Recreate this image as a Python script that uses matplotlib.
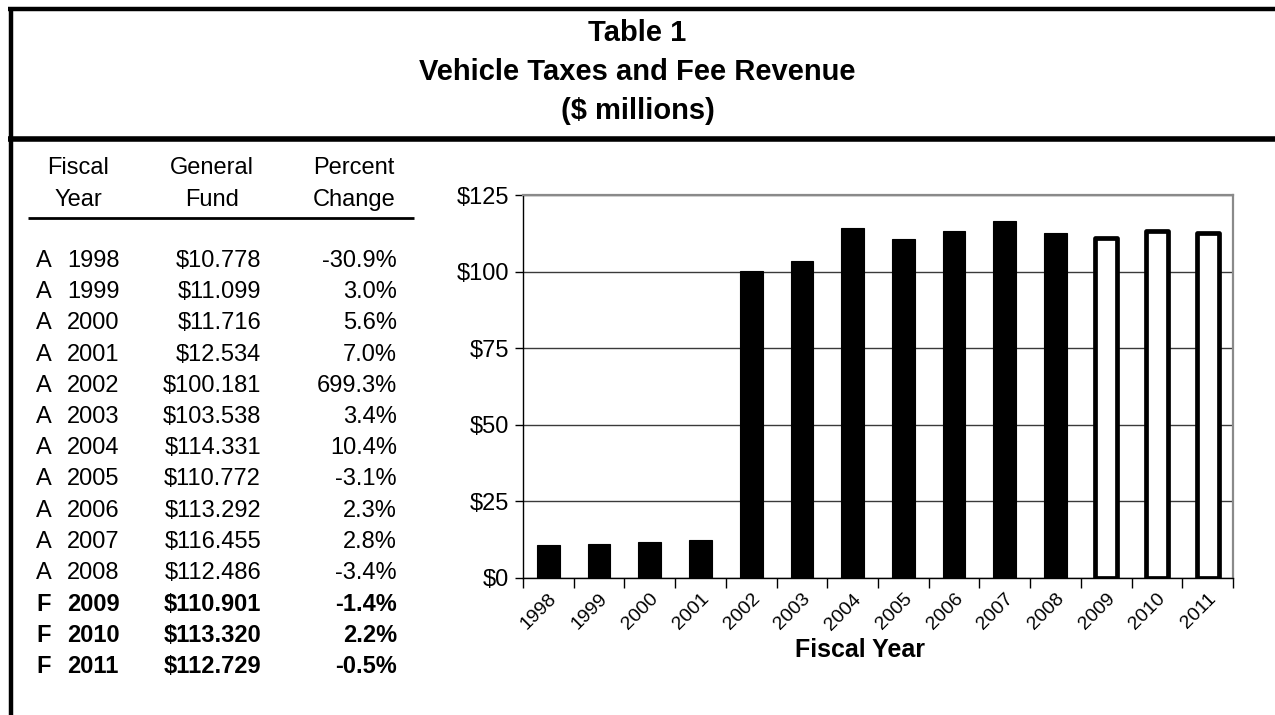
import matplotlib
matplotlib.use("Agg")
import matplotlib.pyplot as plt
from matplotlib.lines import Line2D
from matplotlib.ticker import FixedLocator, FuncFormatter

# ---- data ----
years = [1998, 1999, 2000, 2001, 2002, 2003, 2004, 2005, 2006, 2007, 2008, 2009, 2010, 2011]
status = ["A", "A", "A", "A", "A", "A", "A", "A", "A", "A", "A", "F", "F", "F"]
general_fund = [10.778, 11.099, 11.716, 12.534, 100.181, 103.538, 114.331, 110.772,
                113.292, 116.455, 112.486, 110.901, 113.320, 112.729]
pct_change = [-30.9, 3.0, 5.6, 7.0, 699.3, 3.4, 10.4, -3.1, 2.3, 2.8, -3.4, -1.4, 2.2, -0.5]
title_lines = ["Table 1", "Vehicle Taxes and Fee Revenue", "($ millions)"]
y_ticks = [0, 25, 50, 75, 100, 125]

plt.rcParams["font.family"] = ["Liberation Sans", "DejaVu Sans"]

W, H = 1275, 715
fig = plt.figure(figsize=(W / 100, H / 100), dpi=100)


def fx(x):
    return x / W


def fy(y):
    return 1 - y / H


def hline(x0, x1, y, lw):
    fig.add_artist(Line2D([fx(x0), fx(x1)], [fy(y), fy(y)], color="black",
                          lw=lw, transform=fig.transFigure, solid_capstyle="butt"))


def vline(x, y0, y1, lw):
    fig.add_artist(Line2D([fx(x), fx(x)], [fy(y0), fy(y1)], color="black",
                          lw=lw, transform=fig.transFigure, solid_capstyle="butt"))


# frame
hline(8, W, 9, 3.2)
hline(8, W, 139, 4.0)
vline(10.5, 7, H, 3.2)

# title block
for i, line in enumerate(title_lines):
    fig.text(0.5, fy(33 + 39 * i), line, ha="center", va="center",
             fontsize=21, fontweight="bold")

# table header
hdr_size = 17
fig.text(fx(78), fy(168), "Fiscal", ha="center", va="center", fontsize=hdr_size)
fig.text(fx(78), fy(200), "Year", ha="center", va="center", fontsize=hdr_size)
fig.text(fx(212), fy(168), "General", ha="center", va="center", fontsize=hdr_size)
fig.text(fx(212), fy(200), "Fund", ha="center", va="center", fontsize=hdr_size)
fig.text(fx(354), fy(168), "Percent", ha="center", va="center", fontsize=hdr_size)
fig.text(fx(354), fy(200), "Change", ha="center", va="center", fontsize=hdr_size)
hline(28, 414, 218, 2.0)

# table rows
for i, (st, yr, gf, pc) in enumerate(zip(status, years, general_fund, pct_change)):
    y = fy(261 + 31.2 * i)
    wt = "bold" if st == "F" else "normal"
    fig.text(fx(36), y, st, ha="left", va="center", fontsize=hdr_size, fontweight=wt)
    fig.text(fx(67), y, str(yr), ha="left", va="center", fontsize=hdr_size, fontweight=wt)
    fig.text(fx(261), y, f"${gf:.3f}", ha="right", va="center", fontsize=hdr_size, fontweight=wt)
    fig.text(fx(397), y, f"{pc:.1f}%", ha="right", va="center", fontsize=hdr_size, fontweight=wt)

# bar chart
ax = fig.add_axes([fx(523), fy(578), (1233 - 523) / W, (578 - 195) / H])
xs = list(range(len(years)))
for x, st, v in zip(xs, status, general_fund):
    if st == "A":
        ax.bar(x, v, width=0.45, color="black", edgecolor="black", lw=0.8, zorder=3)
    else:
        ax.bar(x, v, width=0.43, facecolor="white", edgecolor="black", lw=3.4,
               joinstyle="round", zorder=3)

ax.set_xlim(-0.5, len(years) - 0.5)
ax.set_ylim(0, 125)
ax.set_yticks(y_ticks)
ax.yaxis.set_major_formatter(FuncFormatter(lambda v, _: f"${v:.0f}"))
ax.tick_params(axis="y", direction="out", length=6, width=1, labelsize=17, pad=4)
ax.yaxis.grid(True, color="#3a3a3a", lw=1.0)
ax.set_axisbelow(True)

ax.set_xticks(xs)
ax.set_xticklabels([str(y) for y in years], rotation=45, ha="right",
                   rotation_mode="anchor", fontsize=14)
ax.xaxis.set_minor_locator(FixedLocator([x - 0.5 for x in range(len(years) + 1)]))
ax.tick_params(axis="x", which="major", length=0, pad=9)
ax.tick_params(axis="x", which="minor", direction="out", length=7, width=1)

for side in ("top", "right"):
    ax.spines[side].set_color("#8a8a8a")
    ax.spines[side].set_linewidth(1.6)
for side in ("left", "bottom"):
    ax.spines[side].set_color("black")
    ax.spines[side].set_linewidth(1.0)

fig.text(fx(860), fy(650), "Fiscal Year", ha="center", va="center",
         fontsize=18, fontweight="bold")

fig.savefig("out.png", dpi=100, facecolor="white")
